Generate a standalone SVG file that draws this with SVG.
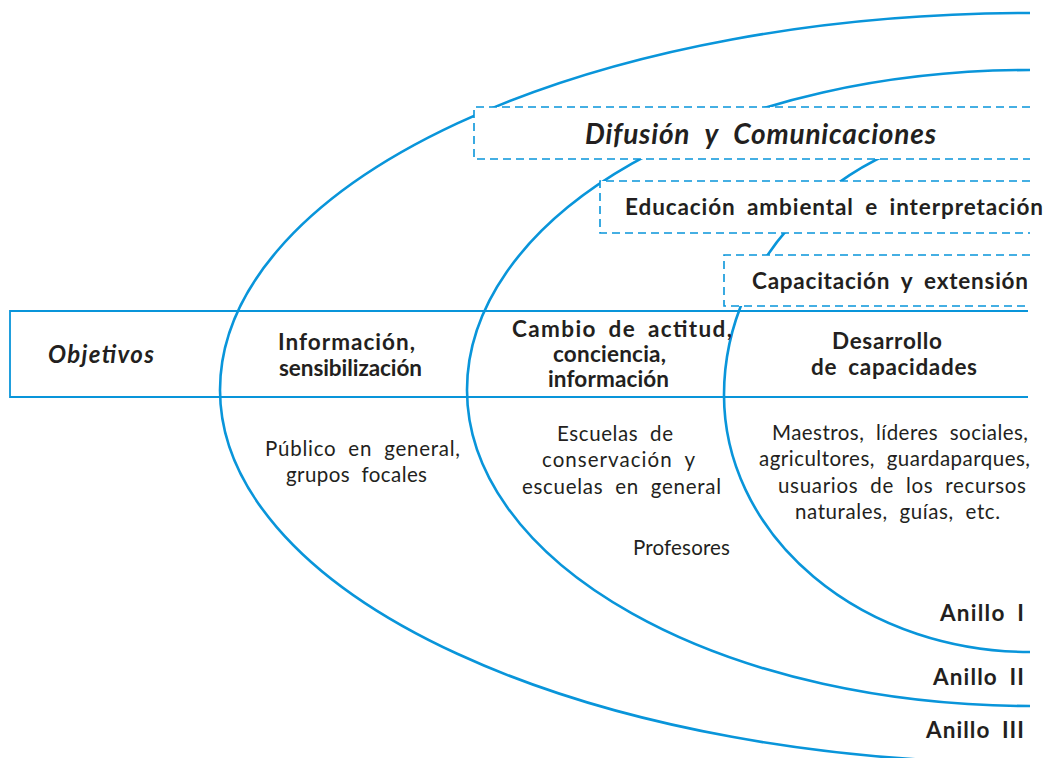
<svg xmlns="http://www.w3.org/2000/svg" width="1045" height="758" viewBox="0 0 1045 758">
<style>
.ring{fill:none;stroke:#0995da;stroke-width:2.6}
.band{fill:none;stroke:#0995da;stroke-width:1.8}
.dbox{fill:none;stroke:#0995da;stroke-width:1.6;stroke-dasharray:8 5}
.mask{fill:#ffffff;stroke:none}
text{font-family:Lato,"Noto Sans","Liberation Sans",sans-serif;fill:#231f20}
.b{font-weight:bold;font-size:22.5px;word-spacing:5px}
.bi{font-weight:bold;font-style:italic}
.r{font-size:20.5px;word-spacing:6px}
</style>
<rect x="0" y="0" width="1045" height="758" fill="#ffffff"/>
<g id="connectors">
<path id="ring3" class="ring" d="M1030,13 A810,377 0 0 0 220,390 A810,373 0 0 0 1030,763"/>
<path id="ring2" class="ring" d="M1030,70 A563,320 0 0 0 467,390 A563,316 0 0 0 1030,706"/>
<path id="ring1" class="ring" d="M1030,123 A306,272 0 0 0 724,395 A306,257 0 0 0 1030,652"/>
</g>
<g id="difusion">
<rect class="mask" x="474" y="107" width="571" height="52"/>
<path class="dbox" d="M1030,107 H474 V159 H1030"/>
<text class="bi" x="585" y="144" font-size="28" word-spacing="8" textLength="351" lengthAdjust="spacing">Difusión y Comunicaciones</text>
</g>
<g id="educacion">
<rect class="mask" x="600" y="181" width="445" height="52"/>
<path class="dbox" d="M1030,181 H600 V233 H1030"/>
<text class="b" x="625" y="215" textLength="418" lengthAdjust="spacing">Educación ambiental e interpretación</text>
</g>
<g id="capacitacion">
<rect class="mask" x="724" y="255" width="321" height="51"/>
<path class="dbox" d="M1030,255 H724 V306 H1030"/>
<text class="b" x="752" y="289" textLength="276" lengthAdjust="spacing">Capacitación y extensión</text>
</g>
<g id="objetivos">
<path class="band" d="M1028,311 H10 V397 H1028"/>
<text class="bi" x="48" y="363" font-size="24" textLength="106" lengthAdjust="spacing">Objetivos</text>
</g>
<g id="obj-ring3">
<text class="b" x="278" y="350" textLength="137" lengthAdjust="spacing">Información,</text>
<text class="b" x="279" y="376" textLength="143" lengthAdjust="spacing">sensibilización</text>
</g>
<g id="obj-ring2">
<text class="b" x="512" y="337" textLength="220" lengthAdjust="spacing">Cambio de actitud,</text>
<text class="b" x="553" y="362" textLength="113" lengthAdjust="spacing">conciencia,</text>
<text class="b" x="548" y="387" textLength="121" lengthAdjust="spacing">información</text>
</g>
<g id="obj-ring1">
<text class="b" x="832" y="349" textLength="110" lengthAdjust="spacing">Desarrollo</text>
<text class="b" x="811" y="375" textLength="166" lengthAdjust="spacing">de capacidades</text>
</g>
<g id="public-ring3">
<text class="r" x="265" y="456" textLength="195" lengthAdjust="spacing">Público en general,</text>
<text class="r" x="286" y="482" textLength="141" lengthAdjust="spacing">grupos focales</text>
</g>
<g id="public-ring2">
<text class="r" x="557" y="441" textLength="116" lengthAdjust="spacing">Escuelas de</text>
<text class="r" x="542" y="467" textLength="153" lengthAdjust="spacing">conservación y</text>
<text class="r" x="522" y="494" textLength="199" lengthAdjust="spacing">escuelas en general</text>
<text class="r" x="633" y="555" textLength="97" lengthAdjust="spacing">Profesores</text>
</g>
<g id="public-ring1">
<text class="r" x="772" y="440" textLength="256" lengthAdjust="spacing">Maestros, líderes sociales,</text>
<text class="r" x="759" y="466" textLength="271" lengthAdjust="spacing">agricultores, guardaparques,</text>
<text class="r" x="778" y="493" textLength="248" lengthAdjust="spacing">usuarios de los recursos</text>
<text class="r" x="795" y="519" textLength="205" lengthAdjust="spacing">naturales, guías, etc.</text>
</g>
<g id="anillo1"><text class="b" x="940" y="621" textLength="84" lengthAdjust="spacing">Anillo I</text></g>
<g id="anillo2"><text class="b" x="933" y="685" textLength="91" lengthAdjust="spacing">Anillo II</text></g>
<g id="anillo3"><text class="b" x="926" y="738" textLength="98" lengthAdjust="spacing">Anillo III</text></g>
</svg>
